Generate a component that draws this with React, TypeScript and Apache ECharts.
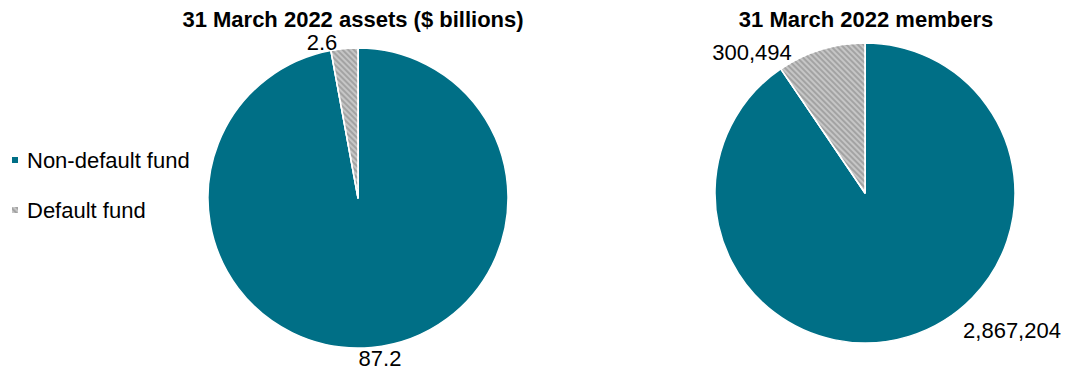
import React, { useEffect, useRef } from "react";
import * as echarts from "echarts";

const categories = ["Non-default fund", "Default fund"];
const assetValues = [87.2, 2.6];
const memberValues = [2867204, 300494];
const titles = ["31 March 2022 assets ($ billions)", "31 March 2022 members"];

const TEAL = "#006f86";
const GREY = "#c6c6c6";
const FONT = "Arial, 'Liberation Sans', sans-serif";
const FS = 22;

const fmtNumber = (v: number) => v.toLocaleString("en-US");

// fixed label anchors for each pie, by data index
const assetLabelPos = [
  { x: 380, y: 358 },
  { x: 322, y: 42 },
];
const memberLabelPos = [
  { x: 1012, y: 330 },
  { x: 752, y: 52 },
];

function buildPie(
  id: string,
  values: number[],
  center: [number, number],
  labelPos: { x: number; y: number }[],
  fmt: (v: number) => string
) {
  return {
    type: "pie",
    id,
    center,
    radius: 150,
    startAngle: 90,
    clockwise: true,
    silent: true,
    data: categories.map((name, i) => ({
      name,
      value: values[i],
      itemStyle:
        i === 0
          ? { color: TEAL }
          : {
              color: GREY,
              decal: {
                symbol: "rect",
                symbolSize: 1,
                dashArrayX: [[1, 0]],
                dashArrayY: [2, 2],
                rotation: Math.PI / 4,
                color: "rgba(140,140,140,0.6)",
              },
            },
    })),
    itemStyle: { borderColor: "#ffffff", borderWidth: 1.5 },
    label: {
      show: true,
      position: "outside",
      formatter: (p: any) => fmt(p.value),
      color: "#000",
      fontSize: FS,
      fontFamily: FONT,
    },
    labelLine: { show: false },
    labelLayout: (p: any) => ({
      x: labelPos[p.dataIndex].x,
      y: labelPos[p.dataIndex].y,
      align: "center",
      verticalAlign: "middle",
    }),
  };
}

export default function App() {
  const ref = useRef<HTMLDivElement>(null);
  useEffect(() => {
    if (!ref.current) return;
    const chart = echarts.init(ref.current, undefined, { renderer: "svg" });
    const titleStyle = { fontSize: FS, fontWeight: "bold", color: "#000", fontFamily: FONT };
    chart.setOption({
      animation: false,
      backgroundColor: "#ffffff",
      title: [
        { text: titles[0], left: 348, top: 3, textAlign: "center", textStyle: titleStyle },
        { text: titles[1], left: 861, top: 3, textAlign: "center", textStyle: titleStyle },
      ],
      legend: {
        orient: "vertical",
        left: 10,
        top: 149,
        padding: 0,
        itemGap: 28,
        itemWidth: 8,
        itemHeight: 8,
        icon: "rect",
        selectedMode: false,
        data: categories,
        textStyle: { fontSize: FS, color: "#000", fontFamily: FONT, padding: [0, 0, 0, 3] },
      },
      series: [
        buildPie("assets", assetValues, [358, 198], assetLabelPos, (v) => v.toFixed(1)),
        buildPie("members", memberValues, [865, 193], memberLabelPos, fmtNumber),
      ],
    });
    return () => chart.dispose();
  }, []);
  return (
    <div
      ref={ref}
      style={{ position: "fixed", left: 0, top: 0, width: 1068, height: 374 }}
    />
  );
}
